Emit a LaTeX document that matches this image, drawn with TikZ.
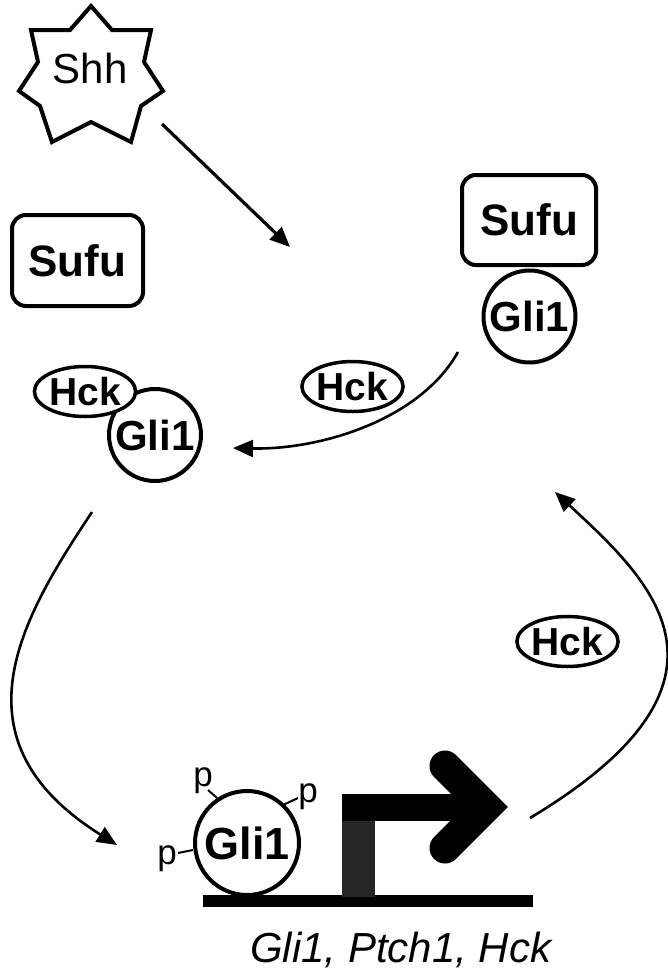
\documentclass[tikz,border=0pt]{standalone}
\usepackage{fontspec}
\setmainfont{Liberation Sans}
\usetikzlibrary{arrows.meta,shapes.geometric}
\begin{document}
\begin{tikzpicture}[x=1pt,y=-1pt,
  box/.style={draw,line width=4pt,rounded corners=14pt,inner sep=0pt,fill=white,
    font=\fontsize{44}{50}\selectfont\bfseries},
  prot/.style={circle,draw,line width=4pt,fill=white,inner sep=0pt,minimum size=92pt,
    font=\fontsize{42}{48}\selectfont\bfseries},
  kin/.style={ellipse,draw,line width=3.5pt,fill=white,inner sep=0pt,minimum width=97pt,
    minimum height=50pt,font=\fontsize{39}{42}\selectfont\bfseries},
  conn/.style={line width=2.6pt,-{Triangle[length=20pt,width=17pt]}},
  phos/.style={inner sep=0pt,font=\fontsize{35}{38}\selectfont},
  stem/.style={line width=2pt},
]
\useasboundingbox (0,0) rectangle (668,975);

% Shh star
\draw[line width=4pt,line join=miter,fill=white]
  (91,6) -- (112,30) -- (151,30) -- (144,62) -- (163,91) -- (141,106) -- (131,142)
  -- (91,122) -- (52,142) -- (40,106) -- (19,91) -- (38,62) -- (31,30) -- (70,30) -- cycle;
\node[inner sep=0pt,font=\fontsize{42}{46}\selectfont] (shh) at (90,68) {Shh};
\coordinate (shhout) at (162,124);
\coordinate (shhin) at (290,247);
\draw[conn,line width=3.2pt] (shhout) -- (shhin);

% left Sufu
\node[box,minimum width=131pt,minimum height=91pt] (sufuL) at (77.5,260.5) {Sufu};

% right Sufu-Gli1
\node[box,minimum width=134pt,minimum height=90pt] (sufuR) at (529,220) {Sufu};
\node[prot] (gliR) at (529.5,316.5) {Gli1};

% left Hck-Gli1
\node[prot] (gliL) at (155,435) {Gli1};
\node[kin] (hckL) at (85,391.5) {Hck};

% middle Hck and arc
\node[kin] (hckM) at (352.5,386.5) {Hck};
\coordinate (aS) at (458,352);
\coordinate (aE) at (233,448);
\draw[conn] (aS) .. controls (420,420) and (320,450) .. (aE);

% left arc
\coordinate (bS) at (92,512);
\coordinate (bE) at (117,845);
\draw[conn] (bS) .. controls (20,620) and (-50,740) .. (bE);

% right arc
\node[kin] (hckR) at (567.5,641.5) {Hck};
\coordinate (cS) at (530,818);
\coordinate (cE) at (555,492);
\draw[conn] (cS) .. controls (760,680) and (650,580) .. (cE);

% gene
\fill (203,895) rectangle (533,907);
\fill[black!85] (342,818) rectangle (375,897);
\fill (342,794) rectangle (480,821);
\draw[line width=31pt,line cap=round,line join=miter] (445,766) -- (486,807) -- (445,848);

% phosphorylated Gli1
\node[prot,minimum size=104pt,font=\fontsize{45}{50}\selectfont\bfseries] (gliP) at (247,843) {Gli1};
\node[phos] (p1) at (203,781) {p};
\node[phos] (p2) at (308,797) {p};
\node[phos] (p3) at (167,859) {p};
\draw[stem] (208,790) -- (217,798);
\draw[stem] (283,805) -- (298,798);
\draw[stem] (178,853) -- (193,850);

\node[anchor=base west,inner sep=0pt,font=\fontsize{42}{48}\selectfont\itshape] (genes) at (250,962)
  {Gli1, Ptch1, Hck};
\end{tikzpicture}
\end{document}
